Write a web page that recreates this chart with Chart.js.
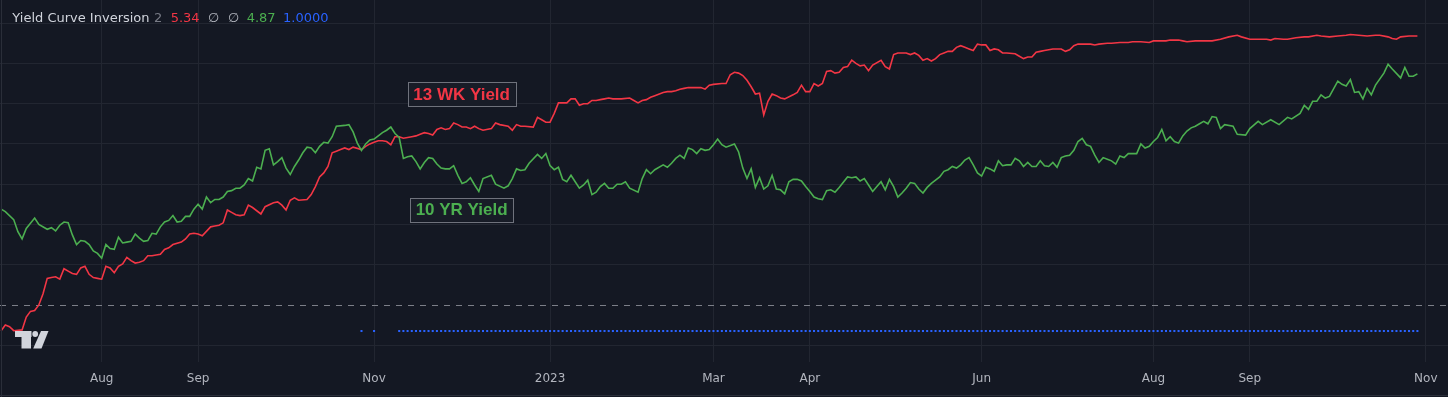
<!DOCTYPE html>
<html><head><meta charset="utf-8">
<script src="https://cdn.jsdelivr.net/npm/chart.js@4.4.0/dist/chart.umd.min.js"></script>
<style>
html,body{margin:0;padding:0;background:#141823;overflow:hidden}
#wrap{position:relative;width:1448px;height:397px}
</style>
</head><body><div id="wrap"><canvas id="c" width="1448" height="397"></canvas></div>
<script>
// ---- tick labels (bar index of each labelled month start) ----
const tickBars = [0, 23, 65, 107, 146, 169, 210, 251, 274, 316];
const tickLabels = ['Aug', 'Sep', 'Nov', '2023', 'Mar', 'Apr', 'Jun', 'Aug', 'Sep', 'Nov'];
const priceLevels = [1.5, 2.0, 2.5, 3.0, 3.5, 4.0, 4.5, 5.0, 5.5];
const dashedLevel = 2.0;

// ---- 13 week T-bill yield (bar index, %) ----
const redBars = [-24,-23,-22,-21,-19,-18,-17,-16,-15,-14,-13,-12,-11,-10,-9,-8,-7,-6,-5,-4,-3,-2,-1,0,1,2,3,4,5,6,7,8,9,10,11,12,13,14,15,16,17,19,20,21,22,23,24,26,27,28,29,30,31,32,33,34,35,36,38,39,41,42,43,44,45,46,47,49,50,51,52,53,54,55,56,57,58,59,60,62,63,64,65,66,67,68,69,70,71,72,73,74,75,76,77,78,79,80,81,82,83,84,85,86,87,88,89,90,91,93,94,95,97,98,99,100,101,103,104,105,106,107,108,109,110,111,112,113,114,115,116,117,118,119,120,121,122,123,124,126,127,128,129,130,131,132,134,135,136,137,138,139,140,142,143,144,145,146,148,149,150,151,152,153,154,155,156,157,158,159,160,161,162,163,165,166,167,168,169,170,171,172,173,174,175,176,177,178,179,180,181,182,183,184,186,187,188,189,190,191,192,193,194,195,196,197,198,199,200,201,202,203,204,205,206,207,208,209,210,211,212,213,214,215,216,218,219,220,221,222,223,224,225,227,228,229,230,231,232,233,234,236,237,238,240,241,243,245,246,248,250,251,253,254,255,257,258,259,261,262,265,267,269,271,272,274,276,278,279,280,282,283,285,287,288,290,291,293,295,297,298,300,302,304,305,307,308,309,310,312,314];
const redYield = [1.68,1.75,1.73,1.68,1.69,1.85,1.92,1.93,2.00,2.14,2.33,2.34,2.35,2.32,2.45,2.42,2.39,2.38,2.46,2.48,2.38,2.34,2.33,2.32,2.48,2.46,2.40,2.48,2.51,2.59,2.55,2.52,2.53,2.55,2.61,2.61,2.62,2.63,2.69,2.71,2.75,2.78,2.82,2.88,2.89,2.88,2.86,2.97,2.98,2.99,3.02,3.18,3.15,3.12,3.11,3.12,3.24,3.21,3.13,3.22,3.27,3.28,3.24,3.18,3.30,3.33,3.30,3.31,3.37,3.47,3.59,3.64,3.72,3.89,3.91,3.93,3.95,3.93,3.96,3.93,3.97,4.00,4.02,4.04,4.04,4.03,3.99,4.09,4.09,4.07,4.08,4.09,4.10,4.12,4.14,4.13,4.11,4.18,4.20,4.18,4.19,4.26,4.24,4.21,4.21,4.19,4.22,4.19,4.17,4.19,4.26,4.24,4.22,4.17,4.24,4.22,4.22,4.21,4.33,4.30,4.27,4.27,4.38,4.51,4.51,4.51,4.56,4.56,4.48,4.50,4.50,4.54,4.54,4.55,4.56,4.57,4.56,4.56,4.56,4.57,4.54,4.51,4.54,4.55,4.58,4.60,4.64,4.65,4.65,4.66,4.68,4.69,4.70,4.70,4.70,4.68,4.73,4.74,4.75,4.75,4.86,4.89,4.88,4.85,4.79,4.71,4.62,4.63,4.36,4.53,4.62,4.60,4.57,4.56,4.61,4.64,4.73,4.65,4.65,4.75,4.72,4.75,4.90,4.91,4.88,4.89,4.95,4.96,5.04,5.00,4.97,4.98,4.91,4.98,5.04,4.96,4.93,5.11,5.13,5.13,5.13,5.11,5.13,5.10,5.04,5.06,5.03,5.06,5.11,5.13,5.15,5.15,5.20,5.22,5.20,5.18,5.16,5.24,5.23,5.23,5.16,5.18,5.17,5.13,5.13,5.12,5.09,5.06,5.08,5.08,5.14,5.15,5.16,5.18,5.18,5.18,5.15,5.17,5.22,5.24,5.24,5.24,5.23,5.24,5.25,5.25,5.26,5.26,5.27,5.27,5.26,5.28,5.28,5.28,5.29,5.29,5.28,5.27,5.28,5.28,5.28,5.30,5.33,5.35,5.33,5.30,5.30,5.30,5.29,5.31,5.30,5.30,5.32,5.33,5.33,5.35,5.34,5.33,5.34,5.35,5.36,5.35,5.34,5.35,5.35,5.33,5.31,5.30,5.33,5.34,5.34];

// ---- 10 year Treasury yield (bar index, %) ----
const greenBars = [-24,-23,-21,-20,-19,-18,-16,-15,-13,-12,-11,-10,-9,-8,-7,-6,-5,-4,-3,-2,-1,0,1,2,3,4,5,6,7,8,9,10,11,12,13,14,15,16,17,18,19,20,21,22,23,24,25,26,27,28,29,30,31,32,33,34,35,36,37,38,39,40,41,42,43,44,45,46,47,48,49,50,51,52,53,54,55,56,58,59,60,61,62,63,64,65,66,67,68,69,70,71,72,73,74,75,76,77,78,79,80,81,82,83,84,85,86,87,88,89,90,91,93,94,96,97,98,99,100,101,102,104,105,106,107,108,109,110,111,112,113,114,115,116,117,118,119,120,121,122,123,124,125,126,128,129,130,131,132,134,135,136,137,138,139,140,141,142,143,144,145,146,147,148,149,151,152,153,154,155,156,157,158,159,160,161,162,163,164,165,166,167,168,169,170,171,172,173,174,175,176,178,179,180,181,182,183,184,185,186,187,188,189,190,191,192,193,194,195,196,197,198,199,200,201,202,203,204,205,206,207,208,209,210,211,212,213,214,215,216,217,218,219,220,221,222,223,224,225,226,227,228,229,230,231,232,233,234,235,236,237,238,239,240,241,242,243,244,245,247,248,249,250,251,252,253,254,255,256,257,258,259,260,261,262,263,264,265,266,267,268,270,271,273,274,276,277,279,281,283,284,286,287,288,289,290,291,292,293,295,296,297,298,299,300,301,302,303,304,306,307,308,310,311,312,313,314];
const greenYield = [3.19,3.16,3.06,2.91,2.82,2.95,3.08,3.00,2.94,2.96,2.92,2.99,3.03,3.02,2.87,2.75,2.80,2.79,2.75,2.67,2.64,2.58,2.75,2.70,2.69,2.84,2.77,2.78,2.79,2.88,2.83,2.79,2.80,2.89,2.88,2.97,3.03,3.05,3.11,3.03,3.04,3.10,3.10,3.19,3.25,3.19,3.34,3.27,3.31,3.31,3.34,3.41,3.42,3.45,3.45,3.49,3.57,3.54,3.71,3.69,3.92,3.94,3.74,3.78,3.83,3.70,3.62,3.72,3.80,3.89,3.96,3.95,3.89,3.97,4.02,4.01,4.09,4.22,4.23,4.24,4.15,4.01,3.92,4.00,4.05,4.06,4.10,4.14,4.17,4.21,4.13,4.08,3.82,3.84,3.85,3.78,3.69,3.77,3.83,3.82,3.75,3.70,3.69,3.69,3.73,3.61,3.51,3.53,3.58,3.49,3.41,3.57,3.61,3.50,3.45,3.48,3.57,3.69,3.67,3.68,3.76,3.87,3.82,3.88,3.73,3.68,3.71,3.56,3.53,3.61,3.53,3.45,3.49,3.55,3.37,3.40,3.47,3.51,3.45,3.45,3.50,3.50,3.53,3.45,3.40,3.57,3.68,3.63,3.68,3.74,3.71,3.76,3.82,3.86,3.82,3.95,3.93,3.88,3.94,3.92,3.93,3.99,4.06,3.99,3.96,4.00,3.90,3.70,3.57,3.69,3.46,3.58,3.44,3.48,3.61,3.44,3.43,3.38,3.53,3.56,3.56,3.54,3.47,3.41,3.34,3.32,3.31,3.42,3.43,3.40,3.46,3.59,3.58,3.59,3.54,3.57,3.49,3.41,3.47,3.53,3.43,3.56,3.47,3.34,3.39,3.45,3.52,3.51,3.44,3.39,3.46,3.51,3.55,3.59,3.66,3.68,3.72,3.70,3.74,3.80,3.83,3.74,3.64,3.60,3.71,3.69,3.66,3.79,3.73,3.74,3.74,3.82,3.79,3.72,3.77,3.72,3.72,3.79,3.73,3.72,3.77,3.71,3.83,3.85,3.86,3.92,4.03,4.07,3.99,3.97,3.86,3.77,3.83,3.81,3.79,3.75,3.85,3.83,3.88,3.88,4.00,3.95,3.97,4.03,4.08,4.18,4.04,4.09,4.03,4.01,4.10,4.16,4.20,4.22,4.25,4.28,4.25,4.34,4.33,4.19,4.24,4.22,4.12,4.11,4.19,4.28,4.24,4.30,4.24,4.33,4.31,4.38,4.48,4.43,4.53,4.53,4.61,4.57,4.59,4.78,4.74,4.72,4.80,4.64,4.65,4.56,4.69,4.61,4.73,4.88,4.99,4.93,4.82,4.95,4.84,4.84,4.87];

// ---- Yield Curve Inversion flag (bars where value = 1) ----
const inversionValue = 1;
const inversionBars = [62,65,
71,72,73,74,75,76,77,78,79,80,81,82,83,84,85,86,87,88,89,90,
91,92,93,94,95,96,97,98,99,100,101,102,103,104,105,106,107,108,109,110,
111,112,113,114,115,116,117,118,119,120,121,122,123,124,125,126,127,128,129,130,
131,132,133,134,135,136,137,138,139,140,141,142,143,144,145,146,147,148,149,150,
151,152,153,154,155,156,157,158,159,160,161,162,163,164,165,166,167,168,169,170,
171,172,173,174,175,176,177,178,179,180,181,182,183,184,185,186,187,188,189,190,
191,192,193,194,195,196,197,198,199,200,201,202,203,204,205,206,207,208,209,210,
211,212,213,214,215,216,217,218,219,220,221,222,223,224,225,226,227,228,229,230,
231,232,233,234,235,236,237,238,239,240,241,242,243,244,245,246,247,248,249,250,
251,252,253,254,255,256,257,258,259,260,261,262,263,264,265,266,267,268,269,270,
271,272,273,274,275,276,277,278,279,280,281,282,283,284,285,286,287,288,289,290,
291,292,293,294,295,296,297,298,299,300,301,302,303,304,305,306,307,308,309,310,
311,312,313,314];

// ---- style ----
const BG = '#141823';
const GRID = '#222631';
const RED = '#f23645';
const GREEN = '#4caf50';
const BLUE = '#2962ff';
const TEXT = '#b2b5be';
const FONT = "'DejaVu Sans', sans-serif";

const decorPlugin = {
  id: 'decor',
  beforeDraw(chart) {
    const c = chart.ctx;
    c.save();
    c.fillStyle = BG;
    c.fillRect(0, 0, chart.width, chart.height);
    c.restore();
  },
  beforeDatasetsDraw(chart) {
    const c = chart.ctx, a = chart.chartArea;
    const y = Math.round(chart.scales.y.getPixelForValue(dashedLevel)) + 0.5;
    c.save();
    c.strokeStyle = '#7c7f88';
    c.lineWidth = 1;
    c.setLineDash([6, 6]);
    c.beginPath(); c.moveTo(a.left, y); c.lineTo(a.right, y); c.stroke();
    c.restore();
  },
  afterDraw(chart) {
    const c = chart.ctx;
    const xs = chart.scales.x, ys = chart.scales.y;
    c.save();
    // frame lines
    c.strokeStyle = '#2a2e39'; c.lineWidth = 1;
    c.beginPath(); c.moveTo(0, 395.5); c.lineTo(chart.width, 395.5); c.stroke();
    c.beginPath(); c.moveTo(1.5, 0); c.lineTo(1.5, chart.height); c.stroke();

    // legend line
    c.font = '13px ' + FONT;
    c.textBaseline = 'alphabetic';
    const items = [
      ['Yield Curve Inversion', '#d1d4dc', 12.3],
      ['2', '#787b86', 154],
      ['5.34', RED, 170.7],
      ['\u2205', '#b2b5be', 208],
      ['\u2205', '#b2b5be', 228],
      ['4.87', GREEN, 246.7],
      ['1.0000', BLUE, 283]
    ];
    items.forEach(([t, col, x]) => { c.fillStyle = col; c.fillText(t, x, 21.5); });

    // series labels
    const notes = [
      ['13 WK Yield', RED, 85.9, 4.62],
      ['10 YR Yield', GREEN, 85.9, 3.182]
    ];
    c.font = "bold 17px 'Liberation Sans', sans-serif";
    c.textAlign = 'center';
    c.textBaseline = 'middle';
    notes.forEach(([t, col, bx, by]) => {
      const px = xs.getPixelForValue(bx), py = ys.getPixelForValue(by);
      const w = c.measureText(t).width + 11, h = 24;
      c.fillStyle = '#181c27';
      c.fillRect(px - w / 2, py - h / 2, w, h);
      c.strokeStyle = '#6f727c'; c.lineWidth = 1;
      c.strokeRect(Math.round(px - w / 2) + 0.5, Math.round(py - h / 2) + 0.5, Math.round(w), h);
      c.fillStyle = col;
      c.fillText(t, px, py + 1);
    });

    // logo
    c.fillStyle = '#d1d4dc';
    c.fillRect(15, 331, 16.5, 6);
    c.fillRect(21.5, 337, 9.5, 11.5);
    c.beginPath(); c.arc(35.2, 334, 2.9, 0, Math.PI * 2); c.fill();
    c.beginPath();
    c.moveTo(41, 331); c.lineTo(48.5, 331); c.lineTo(41.5, 348.5); c.lineTo(33.2, 348.5);
    c.closePath(); c.fill();
    c.restore();
  }
};

const toPts = (xs, ys) => xs.map((x, i) => ({ x, y: ys[i] }));

new Chart(document.getElementById('c'), {
  type: 'line',
  data: {
    datasets: [
      { label: '10 YR Yield', data: toPts(greenBars, greenYield), borderColor: GREEN, borderWidth: 1.6, pointRadius: 0, pointHoverRadius: 0, tension: 0, yAxisID: 'y' },
      { label: '13 WK Yield', data: toPts(redBars, redYield), borderColor: RED, borderWidth: 1.6, pointRadius: 0, pointHoverRadius: 0, tension: 0, yAxisID: 'y' },
      { label: 'Yield Curve Inversion', data: inversionBars.map(b => ({ x: b, y: inversionValue })), showLine: false,
        pointStyle: 'rect', pointRadius: 1.45, pointHoverRadius: 0, pointBorderWidth: 0, pointBackgroundColor: BLUE, borderColor: BLUE, yAxisID: 'y2' }
    ]
  },
  options: {
    responsive: false,
    animation: false,
    devicePixelRatio: 1,
    events: [],
    layout: { autoPadding: false, padding: { left: 0, right: 0, top: 0, bottom: 0.6 } },
    plugins: { legend: { display: false }, tooltip: { enabled: false } },
    scales: {
      x: {
        type: 'linear', min: -24.27, max: 321.3,
        afterBuildTicks: ax => { ax.ticks = tickBars.map(v => ({ value: v })); },
        ticks: {
          callback: v => tickLabels[tickBars.indexOf(v)],
          color: TEXT, font: { family: FONT, size: 12 }, padding: 10,
          autoSkip: false, maxRotation: 0, minRotation: 0
        },
        grid: { color: GRID, drawTicks: false, lineWidth: 1 },
        border: { display: false }
      },
      y: {
        position: 'right', min: 1.291, max: 5.788,
        afterBuildTicks: ax => { ax.ticks = priceLevels.map(v => ({ value: v })); },
        ticks: { display: false },
        grid: { color: ctx => (ctx.tick && ctx.tick.value === dashedLevel) ? 'rgba(0,0,0,0)' : GRID, drawTicks: false, lineWidth: 1 },
        border: { display: false }
      },
      y2: { display: false, min: 0.615, max: 5.112 }
    }
  },
  plugins: [decorPlugin]
});
</script>
</body></html>
